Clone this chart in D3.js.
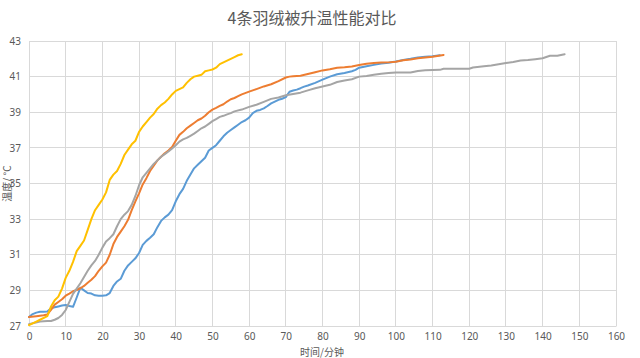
<!DOCTYPE html>
<html><head><meta charset="utf-8">
<script src="https://cdn.jsdelivr.net/npm/d3@7"></script>
<style>body{margin:0;background:#fff;}svg{display:block;font-family:"Noto Sans CJK SC","Noto Sans",sans-serif;}</style>
</head><body>
<svg id="c" width="640" height="358"></svg>
<script>
const title = "4条羽绒被升温性能对比";
const xLabel = "时间/分钟";
const yLabel = "温度/ °C";
const xTicks = [0,10,20,30,40,50,60,70,80,90,100,110,120,130,140,150,160];
const yTicks = [27,29,31,33,35,37,39,41,43];
const seriesNames = ["1", "2", "3", "4"];
const seriesColors = ["#5B9BD5", "#ED7D31", "#A5A5A5", "#FFC000"];

const blue = [[0,27.5],[1,27.67],[2,27.75],[3,27.8],[4,27.8],[5,27.82],[6,28.0],[7,28.05],[8,28.1],[9,28.15],[10,28.18],[11,28.12],[12,28.08],[13,28.6],[14,29.15],[15,29.0],[16,28.85],[17,28.82],[18,28.72],[19,28.7],[20,28.7],[21,28.72],[22,28.85],[23,29.25],[24,29.5],[25,29.65],[26,30.1],[27,30.4],[28,30.6],[29,30.8],[30,31.1],[31,31.55],[32,31.78],[33,31.95],[34,32.15],[35,32.55],[36,32.9],[37,33.1],[38,33.25],[39,33.5],[40,34.0],[41,34.4],[42,34.7],[43,35.15],[44,35.5],[45,35.85],[46,36.05],[47,36.25],[48,36.45],[49,36.85],[50,37.0],[51,37.15],[52,37.4],[53,37.65],[54,37.85],[55,38.0],[56,38.15],[57,38.3],[58,38.45],[59,38.55],[60,38.7],[61,38.95],[62,39.08],[63,39.13],[64,39.22],[65,39.35],[66,39.5],[67,39.6],[68,39.7],[69,39.76],[70,39.85],[71,40.15],[72,40.22],[73,40.27],[74,40.35],[75,40.44],[76,40.5],[78,40.65],[80,40.83],[82,41.0],[84,41.13],[86,41.2],[88,41.3],[89,41.38],[90,41.5],[92,41.58],[94,41.66],[96,41.74],[98,41.78],[100,41.85],[102,41.93],[104,42.0],[106,42.08],[108,42.12],[110,42.15],[112,42.2]];
const orange = [[0,27.5],[2,27.55],[4,27.6],[5,27.65],[6,27.9],[7,28.2],[8,28.35],[9,28.5],[10,28.7],[11,28.82],[12,28.95],[13,29.02],[14,29.12],[15,29.25],[16,29.43],[17,29.6],[18,29.8],[19,30.1],[20,30.35],[21,30.56],[22,31.0],[23,31.6],[24,32.0],[25,32.3],[26,32.6],[27,32.96],[28,33.5],[29,34.0],[30,34.45],[31,34.95],[32,35.3],[33,35.7],[34,36.0],[35,36.3],[36,36.5],[37,36.7],[38,36.85],[39,37.05],[40,37.4],[41,37.73],[42,37.9],[43,38.1],[44,38.25],[45,38.4],[46,38.55],[47,38.65],[48,38.8],[49,39.0],[50,39.15],[51,39.25],[52,39.36],[53,39.45],[54,39.6],[55,39.73],[56,39.8],[57,39.9],[58,40.0],[60,40.16],[62,40.3],[64,40.45],[66,40.57],[68,40.75],[70,40.95],[71,41.0],[72,41.02],[74,41.05],[76,41.15],[78,41.25],[80,41.35],[82,41.42],[84,41.5],[86,41.53],[88,41.57],[90,41.65],[92,41.72],[94,41.76],[96,41.79],[98,41.8],[100,41.83],[102,41.92],[104,41.96],[106,42.03],[108,42.08],[110,42.12],[113,42.22]];
const gray = [[0,27.1],[1,27.15],[3,27.25],[5,27.28],[6,27.28],[7,27.35],[8,27.45],[9,27.62],[10,27.9],[11,28.35],[12,28.8],[13,29.1],[14,29.4],[15,29.75],[16,30.1],[17,30.4],[18,30.65],[19,31.0],[20,31.4],[21,31.75],[22,31.93],[23,32.15],[24,32.6],[25,33.0],[26,33.25],[27,33.45],[28,33.8],[29,34.3],[30,34.9],[31,35.35],[32,35.6],[33,35.85],[34,36.1],[35,36.3],[36,36.5],[37,36.65],[38,36.8],[39,36.97],[40,37.15],[41,37.35],[42,37.48],[43,37.56],[44,37.68],[45,37.8],[46,37.95],[47,38.1],[48,38.2],[49,38.35],[50,38.5],[51,38.62],[52,38.74],[53,38.8],[54,38.88],[55,38.95],[56,39.05],[58,39.15],[60,39.3],[62,39.42],[64,39.58],[66,39.75],[68,39.83],[70,39.95],[72,40.03],[74,40.1],[76,40.23],[78,40.35],[80,40.45],[82,40.54],[84,40.7],[86,40.78],[88,40.85],[90,41.0],[92,41.03],[94,41.1],[96,41.16],[98,41.2],[100,41.23],[104,41.23],[106,41.32],[108,41.36],[112,41.38],[113,41.44],[120,41.44],[121,41.51],[124,41.58],[126,41.63],[128,41.7],[130,41.76],[132,41.82],[134,41.9],[136,41.93],[138,41.98],[140,42.03],[141,42.1],[142,42.17],[144,42.17],[146,42.26]];
const yellow = [[0,27.05],[2,27.25],[3,27.35],[5,27.55],[6,28.1],[7,28.45],[8,28.65],[9,29.1],[10,29.7],[11,30.1],[12,30.6],[13,31.2],[14,31.5],[15,31.8],[16,32.4],[17,33.0],[18,33.5],[19,33.8],[20,34.1],[21,34.5],[22,35.2],[23,35.5],[24,35.7],[25,36.1],[26,36.6],[27,36.9],[28,37.2],[29,37.4],[30,37.9],[31,38.2],[32,38.45],[33,38.7],[34,38.9],[35,39.2],[36,39.4],[37,39.55],[38,39.75],[39,40.0],[40,40.2],[41,40.3],[42,40.4],[43,40.65],[44,40.85],[45,41.0],[46,41.05],[47,41.1],[48,41.3],[49,41.35],[50,41.4],[51,41.5],[52,41.7],[53,41.8],[54,41.9],[55,42.0],[56,42.1],[57,42.2],[58,42.26]];
const series = [blue, orange, gray, yellow];

const svg = d3.select("#c");
const m = {l:29, r:616, t:41, b:326};
const x = d3.scaleLinear().domain([0,160]).range([m.l, m.r]);
const y = d3.scaleLinear().domain([27,43]).range([m.b, m.t]);

// grid
svg.append("g").selectAll("line").data(yTicks).join("line")
  .attr("x1", m.l).attr("x2", m.r).attr("y1", d=>y(d)).attr("y2", d=>y(d))
  .attr("stroke", "#d9d9d9").attr("stroke-width", 1).attr("shape-rendering","crispEdges");
svg.append("g").selectAll("line").data(xTicks).join("line")
  .attr("y1", m.t).attr("y2", m.b).attr("x1", d=>x(d)).attr("x2", d=>x(d))
  .attr("stroke", "#d9d9d9").attr("stroke-width", 1).attr("shape-rendering","crispEdges");

// axes
const xAxis = svg.append("g").attr("transform", `translate(0,${m.b})`)
  .call(d3.axisBottom(x).tickValues(xTicks).tickSize(0).tickPadding(7));
const yAxis = svg.append("g").attr("transform", `translate(${m.l},0)`)
  .call(d3.axisLeft(y).tickValues(yTicks).tickSize(0).tickPadding(8));
[xAxis, yAxis].forEach(g => {
  g.select(".domain").attr("stroke", "#d9d9d9");
  g.selectAll("text").attr("fill", "#595959").style("font-size", "10px")
    .style("font-family", "'Noto Sans','Open Sans',sans-serif");
});

// lines
const line = d3.line().x(d=>x(d[0])).y(d=>y(d[1]));
svg.append("g").selectAll("path").data(series).join("path")
  .attr("d", line).attr("fill", "none")
  .attr("stroke", (d,i)=>seriesColors[i]).attr("stroke-width", 2)
  .attr("stroke-linejoin", "round").attr("stroke-linecap", "round");

// title
svg.append("text").attr("x", 312).attr("y", 24).attr("text-anchor", "middle")
  .attr("fill", "#595959").style("font-size", "16px").text(title);
svg.append("text").attr("x", 322).attr("y", 356).attr("text-anchor", "middle")
  .attr("fill", "#595959").style("font-size", "10px").text(xLabel);
svg.append("text").attr("transform", `translate(11,${(m.t+m.b)/2}) rotate(-90)`)
  .attr("text-anchor", "middle").attr("fill", "#595959").style("font-size", "10px").text(yLabel);
</script>
</body></html>
